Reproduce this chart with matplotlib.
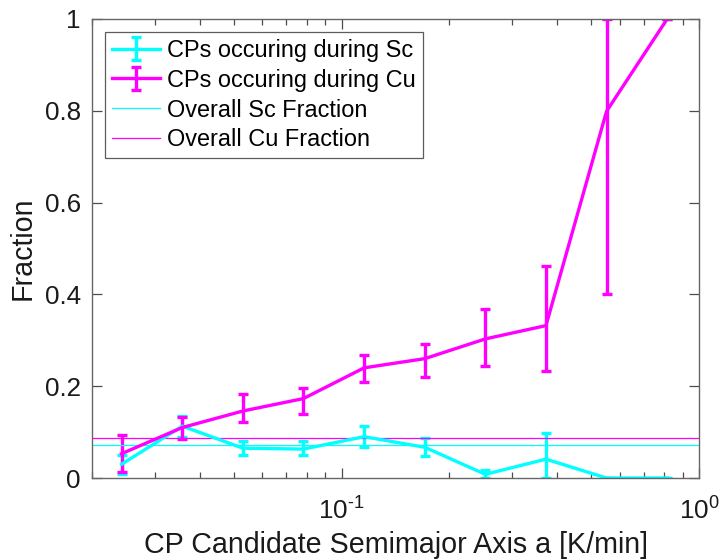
import numpy as np
import matplotlib
matplotlib.use('Agg')
import matplotlib.pyplot as plt
from matplotlib.ticker import LogLocator, NullFormatter

plt.rcParams['font.family'] = ['Liberation Sans', 'DejaVu Sans']
plt.rcParams['mathtext.fontset'] = 'custom'
plt.rcParams['mathtext.rm'] = 'Liberation Sans'
plt.rcParams['mathtext.it'] = 'Liberation Sans:italic'

### Data ###
a_bins = [0.0242, 0.0358, 0.0529, 0.0781, 0.1155, 0.1707, 0.2523, 0.3729, 0.5511, 0.8145]

cu_frac = [0.053, 0.110, 0.146, 0.173, 0.240, 0.260, 0.303, 0.332, 0.799, 1.000]
cu_low  = [0.013, 0.085, 0.123, 0.140, 0.209, 0.220, 0.245, 0.234, 0.400, 1.000]
cu_high = [0.094, 0.132, 0.184, 0.197, 0.268, 0.293, 0.368, 0.461, 1.000, 1.000]

sc_frac = [0.030, 0.113, 0.065, 0.063, 0.090, 0.067, 0.008, 0.041, 0.000, 0.000]
sc_low  = [0.008, 0.090, 0.050, 0.050, 0.068, 0.047, 0.000, 0.000, 0.000, 0.000]
sc_high = [0.050, 0.134, 0.080, 0.080, 0.113, 0.088, 0.017, 0.098, 0.000, 0.000]

sc_overall = 0.071
cu_overall = 0.087

### Plotting ###
fig = plt.figure(figsize=(7.19, 5.6), dpi=100)
ax = fig.add_axes([92/719, 1-478/560, (699-92)/719, (478-19)/560])

x = np.array(a_bins)
sc = np.array(sc_frac)
cu = np.array(cu_frac)
sc_err = [sc - np.array(sc_low), np.array(sc_high) - sc]
cu_err = [cu - np.array(cu_low), np.array(cu_high) - cu]

h1 = ax.errorbar(x, sc, yerr=sc_err, color='cyan', lw=2.4, elinewidth=2.4,
                 capsize=3.3, capthick=2.4, label='CPs occuring during Sc')
h2 = ax.errorbar(x, cu, yerr=cu_err, color='magenta', lw=2.4, elinewidth=2.4,
                 capsize=3.3, capthick=2.4, label='CPs occuring during Cu')
h3 = ax.axhline(sc_overall, color='cyan', lw=0.9, label='Overall Sc Fraction')
h4 = ax.axhline(cu_overall, color='magenta', lw=0.9, label='Overall Cu Fraction')

ax.set_xscale('log')
ax.set_xlim(0.02, 1)
ax.set_ylim(0, 1)
ax.set_yticks([0, 0.2, 0.4, 0.6, 0.8, 1])
ax.set_yticklabels(['0', '0.2', '0.4', '0.6', '0.8', '1'])
ax.set_xticks([0.1, 1])
ax.set_xticklabels([r'$\mathregular{10^{\text{-}1}}$', r'$\mathregular{10^{0}}$'])
ax.xaxis.set_minor_locator(LogLocator(base=10, subs=np.arange(2, 10)))
ax.xaxis.set_minor_formatter(NullFormatter())

for s in ax.spines.values():
    s.set_color('0.4')
    s.set_linewidth(1.0)
ax.tick_params(which='both', direction='in', top=True, right=True, color='0.3',
               labelcolor='0.1', labelsize=18.7)
ax.tick_params(which='major', length=7, width=0.9)
ax.tick_params(which='minor', length=4, width=0.9)
ax.tick_params(axis='y', which='major', pad=8)
ax.tick_params(axis='x', which='major', pad=14)

ax.set_xlabel('CP Candidate Semimajor Axis a [K/min]', fontsize=20.6, color='0.1', labelpad=4.5)
ax.set_ylabel('Fraction', fontsize=20.6, color='0.1', labelpad=6)

leg = ax.legend([h1, h2, h3, h4],
                ['CPs occuring during Sc', 'CPs occuring during Cu',
                 'Overall Sc Fraction', 'Overall Cu Fraction'],
                loc='upper left', bbox_to_anchor=(0.021, 0.972), borderaxespad=0,
                fontsize=16.9, frameon=True, fancybox=False, handlelength=2.05,
                handletextpad=0.3, labelspacing=0.29, borderpad=0.3)
leg.get_frame().set_edgecolor('0.2')
leg.get_frame().set_linewidth(0.9)

plt.savefig('out.png', dpi=100)
